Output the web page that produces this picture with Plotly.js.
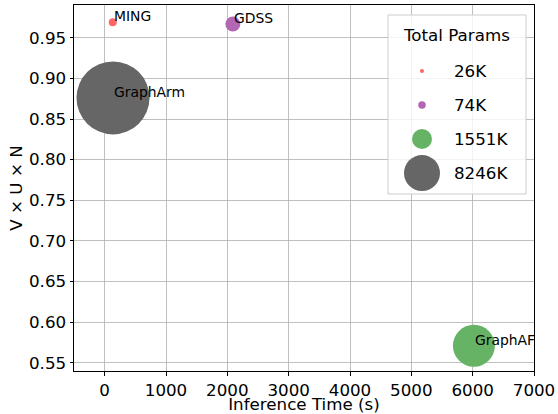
<!DOCTYPE html>
<html>
<head>
<meta charset="utf-8">
<script src="https://cdn.plot.ly/plotly-3.0.1.min.js"></script>
<style>html,body{margin:0;padding:0;background:#fff;}#chart{width:558px;height:414px;}</style>
</head>
<body>
<div id="chart"></div>
<script>
// ---- data ----
const models = ['MING', 'GDSS', 'GraphAF', 'GraphArm'];
const inferenceTime = [132, 2090, 6020, 136];
const vun = [0.969, 0.967, 0.571, 0.876];
const totalParamsK = [26, 74, 1551, 8246];

// ---- styles ----
const colors = ['#ff6666', '#b366b3', '#66b366', '#666666'];
const plotSizes = [8, 15, 42, 73];
const legendSizes = [4, 7.5, 20, 36];
const FONT = 'DejaVu Sans, Arial, sans-serif';

const legendLabels = totalParamsK.map(p => p + 'K');

const X_RANGE = [-500, 7000];
const Y_RANGE = [0.5399, 0.9903];
// legend frame in axis-fraction units
const box = {x0: 0.6826, x1: 0.9826, y0: 0.4836, y1: 0.9727};
const fx = f => X_RANGE[0] + f * (X_RANGE[1] - X_RANGE[0]);
const fy = f => Y_RANGE[0] + f * (Y_RANGE[1] - Y_RANGE[0]);

const traces = [
  {
    type: 'scatter', mode: 'markers',
    x: inferenceTime, y: vun,
    marker: {size: plotSizes, color: colors, opacity: 1, line: {width: 0}},
    showlegend: false, hoverinfo: 'skip'
  },
  {
    type: 'scatter', mode: 'markers',
    x: legendLabels.map(() => 0), y: legendLabels,
    xaxis: 'x2', yaxis: 'y2',
    marker: {size: legendSizes, color: colors, opacity: 1, line: {width: 0}},
    showlegend: false, hoverinfo: 'skip'
  }
];

const annotations = models.map((m, i) => ({
  x: inferenceTime[i], y: vun[i], xref: 'x', yref: 'y',
  text: m, showarrow: false, xanchor: 'left', yanchor: 'bottom', yshift: -4, xshift: -1,
  font: {family: FONT, size: 13.9, color: '#000'}
}));
legendLabels.forEach(l => annotations.push({
  x: 1, y: l, xref: 'x2', yref: 'y2', text: l, showarrow: false,
  xanchor: 'left', yanchor: 'middle', xshift: -2,
  font: {family: FONT, size: 16.7, color: '#000'}
}));
annotations.push({
  x: 0.8326, y: 0.918, xref: 'x domain', yref: 'y domain', text: 'Total Params',
  showarrow: false, xanchor: 'center', yanchor: 'middle',
  font: {family: FONT, size: 16.7, color: '#000'}
});

const axisCommon = {
  showgrid: true, gridcolor: '#b0b0b0', gridwidth: 0.8, zeroline: false,
  showline: true, mirror: true, linecolor: '#000', linewidth: 1,
  ticks: 'outside', ticklen: 3.5, tickwidth: 1, tickcolor: '#000',
  tickfont: {family: FONT, size: 16.7, color: '#000'}
};

const layout = {
  width: 558, height: 414,
  margin: {l: 74, r: 24, t: 5, b: 43},
  paper_bgcolor: '#fff', plot_bgcolor: '#fff',
  font: {family: FONT, color: '#000'},
  showlegend: false,
  xaxis: Object.assign({}, axisCommon, {
    range: X_RANGE, dtick: 1000,
    title: {text: 'Inference Time (s)', font: {family: FONT, size: 16.7, color: '#000'}, standoff: 4}
  }),
  yaxis: Object.assign({}, axisCommon, {
    range: Y_RANGE, dtick: 0.05, tickformat: '.2f',
    title: {text: 'V \u00d7 U \u00d7 N', font: {family: FONT, size: 16.7, color: '#000'}, standoff: 2}
  }),
  xaxis2: {overlaying: 'x', range: [-10.875, 3.5], visible: false, fixedrange: true},
  yaxis2: {overlaying: 'y', type: 'category', categoryarray: legendLabels, range: [8.82, -1.94], visible: false, fixedrange: true},
  shapes: [{
    type: 'rect', xref: 'x', yref: 'y', layer: 'between',
    x0: fx(box.x0), x1: fx(box.x1), y0: fy(box.y0), y1: fy(box.y1),
    line: {color: '#cccccc', width: 1}, fillcolor: 'rgba(255,255,255,0.8)'
  }],
  annotations: annotations
};

Plotly.newPlot('chart', traces, layout, {displayModeBar: false, staticPlot: true});
</script>
</body>
</html>
